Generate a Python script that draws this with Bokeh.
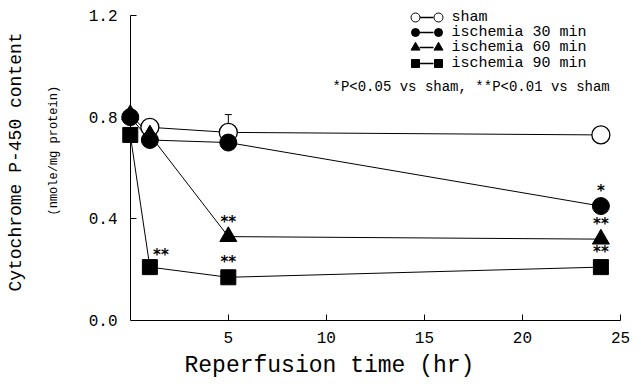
from bokeh.plotting import figure
from bokeh.models import (Range1d, FixedTicker, Label, ColumnDataSource, PrintfTickFormatter,
                          LinearAxis, Title, CustomJSTickFormatter)
from bokeh.core.properties import value
from bokeh.embed import file_html
from bokeh.resources import INLINE

# ---------------- data ----------------
hours = [0, 1, 5, 24]
sham_hours = [1, 5, 24]
sham = [0.76, 0.74, 0.73]
sham_err = [0.0, 0.07, 0.0]
isch30 = [0.80, 0.71, 0.70, 0.45]
isch60 = [0.81, 0.73, 0.33, 0.32]
isch90 = [0.73, 0.21, 0.17, 0.21]
stars30 = ["", "", "", "*"]
stars60 = ["", "", "**", "**"]
stars90 = ["", "**", "**", "**"]
x_ticks = [5, 10, 15, 20, 25]
y_ticks = [0.0, 0.4, 0.8, 1.2]
legend_labels = ["sham", "ischemia 30 min", "ischemia 60 min", "ischemia 90 min"]
sig_note = "*P<0.05 vs sham,  **P<0.01 vs sham"
x_title = "Reperfusion time (hr)"
y_title = "Cytochrome P-450 content"
y_subtitle = "(nmole/mg protein)"

FONT = "Liberation Mono"
W, H = 641, 384
FL, FR, FT, FB = 118, 620, 3, 320   # frame edges in canvas pixels
X0, X1, Y0, Y1 = -0.6, 25, 0, 1.247

p = figure(width=W, height=H, x_range=Range1d(X0, X1), y_range=Range1d(Y0, Y1),
           output_backend="svg", toolbar_location=None,
           min_border_left=FL, min_border_right=W - FR, min_border_top=FT, min_border_bottom=H - FB)
p.outline_line_color = None
p.xgrid.visible = False
p.ygrid.visible = False
p.background_fill_color = "white"

# x axis
xa = p.xaxis[0]
xa.bounds = (0, 25)
xa.ticker = FixedTicker(ticks=x_ticks)
xa.major_tick_in = 6
xa.major_tick_out = 0
xa.minor_tick_line_color = None
xa.major_label_text_font = FONT
xa.major_label_text_font_size = "16px"
xa.major_label_text_color = "black"
xa.major_label_standoff = 11
xa.axis_line_color = "black"
xa.major_tick_line_color = "black"

# y axis: labels only, at the frame edge
ya = p.yaxis[0]
ya.ticker = FixedTicker(ticks=y_ticks)
ya.formatter = PrintfTickFormatter(format="%.1f")
ya.major_tick_in = 0
ya.major_tick_out = 0
ya.minor_tick_line_color = None
ya.axis_line_color = None
ya.major_tick_line_color = None
ya.major_label_text_font = FONT
ya.major_label_text_font_size = "16px"
ya.major_label_text_color = "black"
ya.major_label_standoff = 1

# y axis line and ticks at x = 0 (ticks pointing into the plot)
ya2 = LinearAxis(fixed_location=0, bounds=(0, 1.2), ticker=FixedTicker(ticks=y_ticks),
                 formatter=CustomJSTickFormatter(code="return ''"),
                 major_tick_in=0, major_tick_out=6, minor_tick_line_color=None,
                 major_label_standoff=0, axis_line_color="black",
                 major_tick_line_color="black")
p.add_layout(ya2, "right")

# axis titles
p.add_layout(Title(text=y_subtitle, text_font=FONT, text_font_size="12px",
                   text_font_style="normal", align="left", offset=105, standoff=50,
                   text_color="black"), "left")
p.add_layout(Title(text=y_title, text_font=FONT, text_font_size="18px",
                   text_font_style="normal", align="center", standoff=-12,
                   text_color="black"), "left")
p.add_layout(Title(text=x_title, text_font=FONT, text_font_size="23px",
                   text_font_style="normal", align="left", offset=66, standoff=10,
                   text_color="black"), "below")

# ---------------- series ----------------
p.line(sham_hours, sham, line_color="black", line_width=1)
p.line(hours, isch30, line_color="black", line_width=1)
p.line(hours, isch60, line_color="black", line_width=1)
p.line(hours, isch90, line_color="black", line_width=1)

# error bar (sham)
eb_x = [h for h, e in zip(sham_hours, sham_err) if e > 0]
eb_y0 = [s for s, e in zip(sham, sham_err) if e > 0]
eb_y1 = [s + e for s, e in zip(sham, sham_err) if e > 0]
p.segment(x0=eb_x, y0=eb_y0, x1=eb_x, y1=eb_y1, line_color="black", line_width=1)
p.scatter(eb_x, eb_y1, marker="dash", size=7, line_color="black", line_width=1)

p.scatter(sham_hours, sham, marker="circle", size=18, fill_color="white",
          line_color="black", line_width=1.3)
p.scatter(hours, isch90, marker="square", size=15, fill_color="black", line_color="black")
p.scatter(hours, isch60, marker="triangle", size=17, fill_color="black", line_color="black")
p.scatter(hours, isch30, marker="circle", size=17, fill_color="black", line_color="black")

# significance stars
star_dx = [0, 11, 0, 0]
star_dy = [-15, -12, -15, -15]
for vals, stars in ((isch30, stars30), (isch60, stars60), (isch90, stars90)):
    src = ColumnDataSource(dict(x=hours, y=vals, t=stars, dx=star_dx, dy=star_dy))
    p.text(x="x", y="y", text="t", source=src, x_offset="dx", y_offset="dy",
           text_font=value("DejaVu Sans"), text_font_size="15px", text_font_style="bold",
           text_align="center", text_baseline="middle", text_color="#000000")

# ---------------- helpers (canvas pixel -> data / frame screen units) ----------------
def dx_(px):
    return X0 + (px - FL) / (FR - FL) * (X1 - X0)

def dy_(py):
    return Y0 + (FB - py) / (FB - FT) * (Y1 - Y0)

def sx(px):
    return px - FL

def sy(py):
    return FB - py

# ---------------- custom legend ----------------
leg_rows = [17, 32, 47, 63]
leg_markers = [("circle", "white", 9), ("circle", "black", 8),
               ("triangle", "black", 9), ("square", "black", 8)]
for row_y, (mk, fill, sz), lab in zip(leg_rows, leg_markers, legend_labels):
    yy = dy_(row_y)
    p.line([dx_(419), dx_(433)], [yy, yy], line_color="black", line_width=1.5)
    p.scatter([dx_(415), dx_(438)], [yy, yy], marker=mk, size=sz,
              fill_color=fill, line_color="black", line_width=1)
    p.add_layout(Label(x=sx(451), y=sy(row_y), x_units="screen", y_units="screen",
                       text=lab, text_font=FONT, text_font_size="15px",
                       text_baseline="middle", text_align="left", text_color="black"))

p.add_layout(Label(x=sx(332), y=sy(86), x_units="screen", y_units="screen",
                   text=sig_note, text_font=FONT, text_font_size="14px",
                   text_baseline="middle", text_align="left", text_color="black"))

open("out.html", "w").write(file_html(p, INLINE))
